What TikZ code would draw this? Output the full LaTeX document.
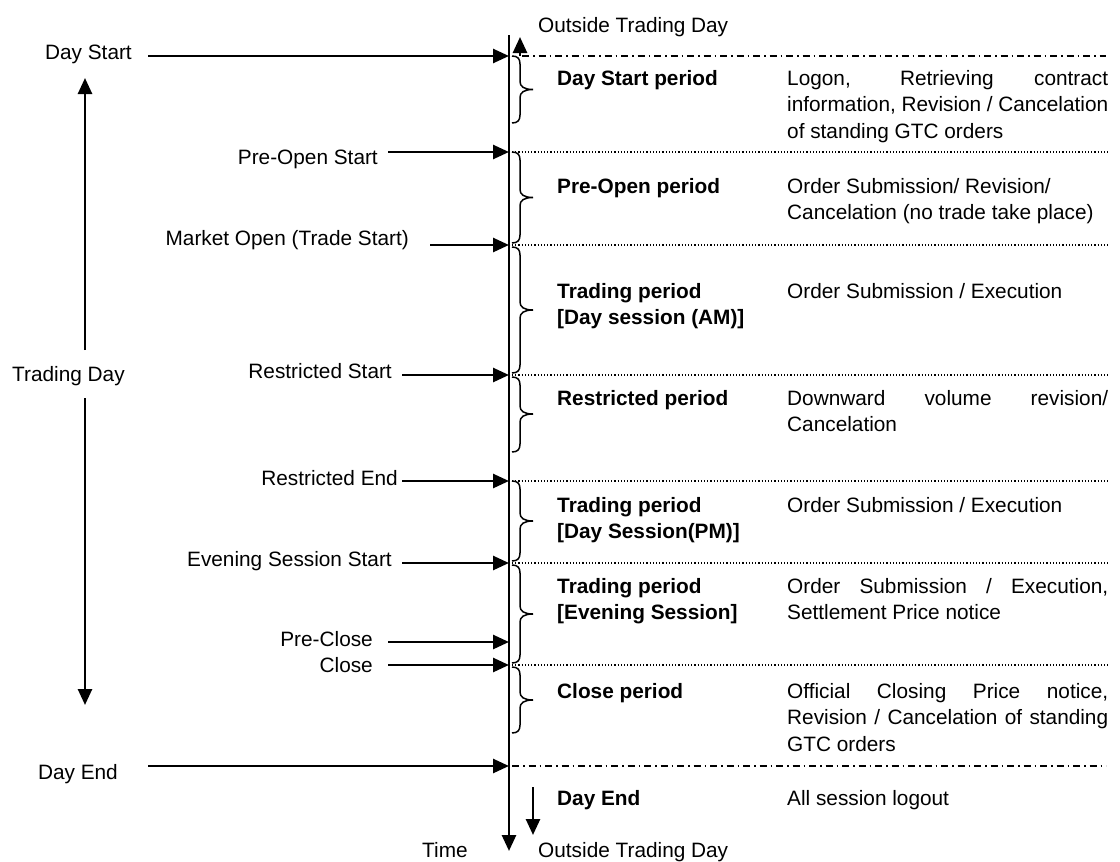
\documentclass[tikz,border=0pt]{standalone}
\usepackage{fontspec}
\setmainfont{Liberation Sans}
\usetikzlibrary{arrows.meta}
\newcommand\tbrace[3]{\draw[brc] (512,#1) .. controls (518,#1) and (520,#1+3) .. (520,#1+8) -- (520,#2-8) .. controls (520,#2-3) and (524,#2) .. (533,#2) .. controls (524,#2) and (520,#2+3) .. (520,#2+8) -- (520,#3-8) .. controls (520,#3-3) and (518,#3) .. (512,#3);}
\newcommand\jline[1]{\makebox[321pt][s]{#1}}
\newcommand\pbox[1]{\parbox[t]{330pt}{\setlength\parindent{0pt}#1}}
\begin{document}
\begin{tikzpicture}[x=1pt,y=-1pt,
  every node/.style={inner sep=0pt, font=\fontsize{20.8}{26.6}\selectfont},
  lbl/.style={anchor=base east},
  txt/.style={anchor=base west},
  period/.style={anchor=base west, font=\fontsize{20.8}{26.6}\selectfont\bfseries},
  axis/.style={line width=2.8pt, -{Triangle[length=16pt,width=14pt]}},
  tick/.style={line width=2.6pt, -{Triangle[length=16pt,width=14pt]}},
  dotline/.style={line width=1.2pt, dash pattern=on 1.2pt off 2pt},
  dashdot/.style={line width=1.2pt, dash pattern=on 7pt off 4pt on 1.5pt off 4pt},
  brc/.style={line width=1.5pt}]
\useasboundingbox (0,0) rectangle (1120,862);
\fill[white] (0,0) rectangle (1120,862);

% main time axis
\coordinate (axTop) at (509,35);
\coordinate (axBot) at (509,851);
\draw[axis] (axTop) -- (axBot);

% top / bottom labels
\node[txt] (outTop) at (538,32) {Outside Trading Day};
\node[txt] (outBot) at (538,857) {Outside Trading Day};
\node[txt] (time) at (422,857) {Time};

% small arrows
\coordinate (upS) at (520,56);
\coordinate (upE) at (520,37);
\draw[tick] (upS) -- (upE);
\coordinate (dnS) at (533,787);
\coordinate (dnE) at (533,835);
\draw[tick] (dnS) -- (dnE);

% separator lines
\coordinate (dd1a) at (522,56);  \coordinate (dd1b) at (1106,56);
\coordinate (dd2a) at (512,766); \coordinate (dd2b) at (1106,766);
\draw[dashdot] (dd1a) -- (dd1b);
\draw[dashdot] (dd2a) -- (dd2b);
\foreach \y/\n in {152/a,245/b,375/c,481/d,563/e,665/f}{
  \coordinate (dl\n1) at (512,\y);
  \coordinate (dl\n2) at (1108,\y);
  \draw[dotline] (dl\n1) -- (dl\n2);
}

% event labels and arrows
\node[lbl] (lDS) at (132,59) {Day Start};
\node[lbl] (lPO) at (378,164) {Pre-Open Start};
\node[lbl] (lMO) at (409,245) {Market Open (Trade Start)};
\node[lbl] (lRS) at (392,378) {Restricted Start};
\node[lbl] (lRE) at (398,485) {Restricted End};
\node[lbl] (lES) at (392,566) {Evening Session Start};
\node[lbl] (lPC) at (373,646) {Pre-Close};
\node[lbl] (lCl) at (373,672) {Close};
\node[lbl] (lDE) at (118,779) {Day End};
\foreach \n/\xs/\y in {DS/148/56, PO/388/152, MO/430/245, RS/402/375, RE/402/481, ES/402/563, PC/388/642, Cl/388/665, DE/148/766}{
  \coordinate (s\n) at (\xs,\y);
  \coordinate (t\n) at (509,\y);
  \draw[tick] (s\n) -- (t\n);
}

% trading day
\node[txt] (lTD) at (12,381) {Trading Day};
\coordinate (tdU1) at (85,350); \coordinate (tdU2) at (85,78);
\coordinate (tdD1) at (85,398); \coordinate (tdD2) at (85,705);
\draw[tick] (tdU1) -- (tdU2);
\draw[tick] (tdD1) -- (tdD2);

% braces
\tbrace{56}{89.5}{123}
\tbrace{152}{197.5}{243}
\tbrace{247}{310}{373}
\tbrace{377}{414}{452}
\tbrace{481}{521}{561}
\tbrace{565}{614}{663}
\tbrace{667}{700}{733}

% period names
\node[period] (pDS) at (557,85) {\pbox{Day Start period}};
\node[period] (pPO) at (557,193) {\pbox{Pre-Open period}};
\node[period] (pAM) at (557,298) {\pbox{Trading period\\{}[Day session (AM)]}};
\node[period] (pRS) at (557,405) {\pbox{Restricted period}};
\node[period] (pPM) at (557,512) {\pbox{Trading period\\{}[Day Session(PM)]}};
\node[period] (pEV) at (557,593) {\pbox{Trading period\\{}[Evening Session]}};
\node[period] (pCl) at (557,698) {\pbox{Close period}};
\node[period] (pDE) at (557,805) {\pbox{Day End}};

% descriptions
\node[txt] (dDS) at (787,85) {\pbox{\jline{Logon, Retrieving contract}\\ \jline{information, Revision / Cancelation}\\ of standing GTC orders}};
\node[txt] (dPO) at (787,193) {\pbox{Order Submission/ Revision/\\ Cancelation (no trade take place)}};
\node[txt] (dAM) at (787,298) {\pbox{Order Submission / Execution}};
\node[txt] (dRS) at (787,405) {\pbox{\jline{Downward volume revision/}\\ Cancelation}};
\node[txt] (dPM) at (787,512) {\pbox{Order Submission / Execution}};
\node[txt] (dEV) at (787,593) {\pbox{\jline{Order Submission / Execution,}\\ Settlement Price notice}};
\node[txt] (dCl) at (787,698) {\pbox{\jline{Official Closing Price notice,}\\ \jline{Revision / Cancelation of standing}\\ GTC orders}};
\node[txt] (dDE) at (787,805) {\pbox{All session logout}};
\end{tikzpicture}
\end{document}
